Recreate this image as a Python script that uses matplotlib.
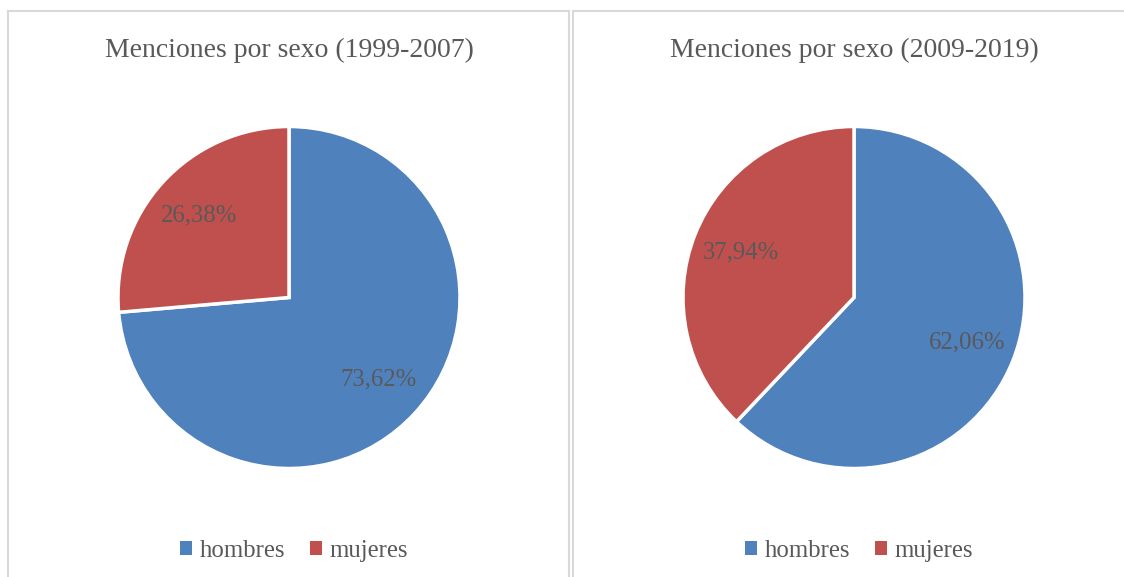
import matplotlib.pyplot as plt
from matplotlib.lines import Line2D
from matplotlib.patches import Patch

categorias = ['hombres', 'mujeres']
titulos = ['Menciones por sexo (1999-2007)', 'Menciones por sexo (2009-2019)']
valores_1999_2007 = [73.62, 26.38]
valores_2009_2019 = [62.06, 37.94]
colores = ['#4F81BD', '#C0504D']
texto = '#595959'
borde = '#D9D9D9'

plt.rcParams['font.family'] = ['Liberation Serif', 'DejaVu Serif']

W, H = 1124, 577
fig = plt.figure(figsize=(W / 100, H / 100), dpi=100)
fig.patch.set_facecolor('white')


def fx(px):
    return px / W


def fy(py):
    return 1 - py / H


# chart area borders
for x0, x1 in [(8, 569), (573, 1130)]:
    fig.add_artist(Line2D([fx(x0), fx(x1)], [fy(11), fy(11)], color=borde, lw=1.5))
    fig.add_artist(Line2D([fx(x0), fx(x0)], [fy(11), fy(580)], color=borde, lw=1.5))
    fig.add_artist(Line2D([fx(x1), fx(x1)], [fy(11), fy(580)], color=borde, lw=1.5))

r = 171
datos = [valores_1999_2007, valores_2009_2019]
centros = [289, 854]
for i, (vals, cx) in enumerate(zip(datos, centros)):
    ax = fig.add_axes([fx(cx - r), fy(297.5 + r), (2 * r) / W, (2 * r) / H])
    ax.pie(vals, colors=colores, startangle=90, counterclock=False,
           wedgeprops=dict(edgecolor='white', linewidth=2.5),
           autopct=lambda p: f'{p:.2f}%'.replace('.', ','),
           pctdistance=0.71,
           textprops=dict(color=texto, fontsize=17.8))
    ax.set_xlim(-1, 1)
    ax.set_ylim(-1, 1)
    ax.set_aspect('equal')
    ax.axis('off')

    fig.text(fx(cx), fy(50), titulos[i], ha='center', va='center',
             fontsize=20, color=texto)

    handles = [Patch(facecolor=c, edgecolor='none') for c in colores]
    fig.legend(handles, categorias, loc='center', bbox_to_anchor=(fx(cx + 5), fy(551)),
               ncol=2, frameon=False, fontsize=17.8, labelcolor=texto,
               handlelength=0.5, handleheight=0.5, handletextpad=0.3,
               columnspacing=1.0)

fig.savefig('out.png', dpi=100)
